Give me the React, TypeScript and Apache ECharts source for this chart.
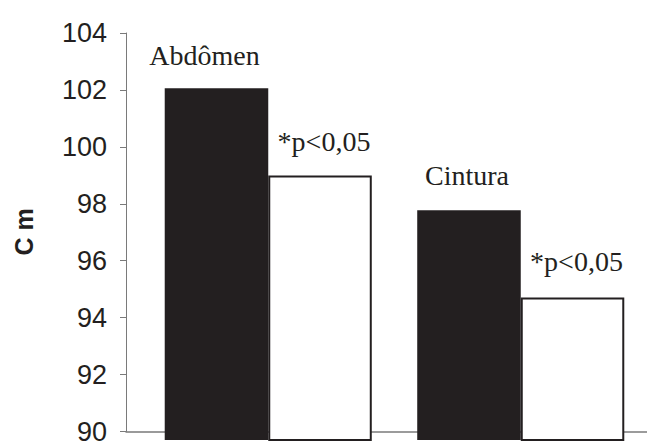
import React, { useEffect, useRef } from "react";
import * as echarts from "echarts";

const categories = ["Abdômen", "Cintura"];
const firstValues = [102.1, 97.9];
const secondValues = [99.1, 94.9];
const significance = ["*p<0,05", "*p<0,05"];
const yMin = 90;
const yMax = 104;
const yStep = 2;

const INK = "#231f20";
const AXIS = "#7a7a7a";
const SERIF = "'Liberation Serif', 'Times New Roman', serif";
const SANS = "'Liberation Sans', Arial, sans-serif";

export default function App() {
  const ref = useRef<HTMLDivElement>(null);
  useEffect(() => {
    if (!ref.current) return;
    const chart = echarts.init(ref.current, undefined, { renderer: "svg" });
    chart.setOption({
      animation: false,
      backgroundColor: "#ffffff",
      grid: [
        { left: 126, top: 33, bottom: 5, right: 0 },
        { left: 142, top: 33, bottom: 5, width: 511 },
      ],
      xAxis: [
        {
          gridIndex: 0,
          type: "value",
          min: 0,
          max: 1,
          axisLine: { show: true, onZero: false, lineStyle: { color: AXIS, width: 1.5 } },
          axisTick: { show: false },
          axisLabel: { show: false },
          splitLine: { show: false },
        },
        {
          gridIndex: 1,
          type: "category",
          data: categories,
          show: false,
        },
      ],
      yAxis: [
        {
          gridIndex: 0,
          type: "value",
          min: yMin,
          max: yMax,
          interval: yStep,
          axisLine: { show: true, lineStyle: { color: AXIS, width: 1 } },
          axisTick: { show: true, length: 6, lineStyle: { color: AXIS, width: 1 } },
          axisLabel: {
            color: INK,
            fontFamily: SANS,
            fontSize: 27,
            margin: 19,
            padding: [0, 0, 10, 0],
          },
          splitLine: { show: false },
        },
        {
          gridIndex: 1,
          type: "value",
          min: yMin,
          max: yMax,
          show: false,
        },
      ],
      graphic: [
        {
          type: "text",
          x: 24,
          y: 232,
          rotation: Math.PI / 2,
          style: {
            text: "C m",
            fontFamily: SANS,
            fontWeight: "bold",
            fontSize: 25,
            fill: INK,
            textAlign: "center",
            textVerticalAlign: "middle",
          },
        },
      ],
      series: [
        {
          type: "bar",
          xAxisIndex: 1,
          yAxisIndex: 1,
          barGap: "0%",
          barCategoryGap: "18%",
          itemStyle: { color: INK },
          label: {
            show: true,
            position: "top",
            distance: 19,
            formatter: "{b}",
            fontFamily: SERIF,
            fontSize: 28,
            color: INK,
          },
          data: firstValues.map((v, i) => ({
            value: v,
            label: { offset: [i === 0 ? -12 : -2, i === 0 ? 0 : -2] },
          })),
        },
        {
          type: "bar",
          xAxisIndex: 1,
          yAxisIndex: 1,
          barGap: "0%",
          barCategoryGap: "18%",
          itemStyle: { color: "#ffffff", borderColor: INK, borderWidth: 2 },
          label: {
            show: true,
            position: "top",
            distance: 20,
            fontFamily: SERIF,
            fontSize: 28,
            color: INK,
          },
          data: secondValues.map((v, i) => ({
            value: v,
            label: {
              formatter: significance[i],
              offset: [4, i === 0 ? 0 : -2],
            },
          })),
        },
      ],
    });
    return () => chart.dispose();
  }, []);
  return <div ref={ref} style={{ width: 647, height: 445, position: "absolute", left: 0, top: 0 }} />;
}
